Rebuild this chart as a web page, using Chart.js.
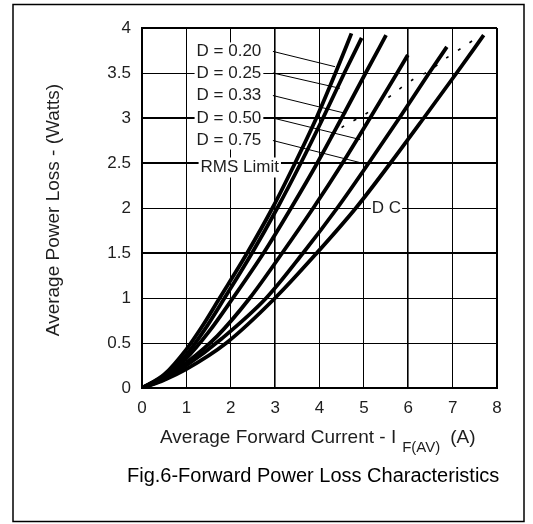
<!DOCTYPE html>
<html>
<head>
<meta charset="utf-8">
<script src="https://cdn.jsdelivr.net/npm/chart.js@4.4.1/dist/chart.umd.min.js"></script>
<style>
  html, body { margin: 0; padding: 0; background: #fff; }
  canvas { display: block; }
</style>
</head>
<body>
<canvas id="graph1" width="533" height="524"></canvas>
<script>
var dcCurrent  = [0, 0.5, 1, 1.9, 3.0, 3.94, 4.82, 5.6, 6.35, 7.09, 7.7];
var dcPower    = [0, 0.09, 0.21, 0.5, 1.0, 1.5, 2.0, 2.5, 3.0, 3.5, 3.92];

var d75Current = [0, 0.5, 1, 1.8, 2.8, 3.63, 4.4, 5.11, 5.8, 6.47, 6.87];
var d75Power   = [0, 0.1, 0.25, 0.55, 1.0, 1.5, 2.0, 2.5, 3.0, 3.5, 3.79];

var d50Current = [0, 0.5, 1, 1.7, 2.43, 3.16, 3.86, 4.52, 5.14, 5.75, 5.99];
var d50Power   = [0, 0.11, 0.28, 0.58, 1.0, 1.5, 2.0, 2.5, 3.0, 3.5, 3.7];

var d33Current = [0, 0.5, 1, 1.5, 2.05, 2.74, 3.36, 3.95, 4.5, 5.04, 5.5];
var d33Power   = [0, 0.13, 0.33, 0.62, 1.0, 1.5, 2.0, 2.5, 3.0, 3.5, 3.92];

var d25Current = [0, 0.5, 1, 1.4, 1.86, 2.48, 3.05, 3.58, 4.08, 4.56, 4.95];
var d25Power   = [0, 0.14, 0.37, 0.64, 1.0, 1.5, 2.0, 2.5, 3.0, 3.5, 3.89];

var d20Current = [0, 0.5, 1, 1.35, 1.75, 2.37, 2.94, 3.45, 3.93, 4.36, 4.72];
var d20Power   = [0, 0.15, 0.43, 0.68, 1.0, 1.5, 2.0, 2.5, 3.0, 3.5, 3.94];

var rmsCurrent = [4.24, 4.61, 4.96, 5.4, 5.74, 6.08, 6.49, 6.87, 7.21, 7.6];
var rmsPower   = [2.8, 2.93, 3.02, 3.17, 3.3, 3.42, 3.53, 3.67, 3.78, 3.91];

var xTicks = ['0', '1', '2', '3', '4', '5', '6', '7', '8'];
var yTicks = ['0', '0.5', '1', '1.5', '2', '2.5', '3', '3.5', '4'];

var dutyLabels = ['D = 0.20', 'D = 0.25', 'D = 0.33', 'D = 0.50', 'D = 0.75'];
var labelLevel = [3.74, 3.5, 3.25, 3.0, 2.75];   // where each label sits
var leaderEndX = [4.35, 4.46, 4.6, 4.92, 5.11];  // where its pointer hits the curve
var leaderEndY = [3.57, 3.33, 3.05, 2.76, 2.48];

var FONT = "'Liberation Sans', Arial, sans-serif";
var INK = '#1e1e1e';

function pts(xs, ys) {
    return xs.map(function (v, i) { return { x: v, y: ys[i] }; });
}

function curve(xs, ys) {
    return {
        data: pts(xs, ys),
        borderColor: '#000',
        borderWidth: 3.8,
        pointRadius: 0,
        cubicInterpolationMode: 'monotone',
        fill: false
    };
}

var datasets = [
    curve(d20Current, d20Power),
    curve(d25Current, d25Power),
    curve(d33Current, d33Power),
    curve(d50Current, d50Power),
    curve(d75Current, d75Power),
    curve(dcCurrent, dcPower),
    {
        data: pts(rmsCurrent, rmsPower),
        borderColor: '#000',
        borderWidth: 1.6,
        borderDash: [3, 11],
        pointRadius: 0,
        tension: 0.3
    }
];

// thin pointer lines from the labels to their curves
dutyLabels.forEach(function (txt, i) {
    datasets.push({
        data: [{ x: 2.95, y: labelLevel[i] }, { x: leaderEndX[i], y: leaderEndY[i] }],
        borderColor: '#000',
        borderWidth: 1,
        pointRadius: 0
    });
});

var decorations = {
    id: 'decorations',
    beforeDraw: function (chart) {
        var c = chart.ctx;
        c.save();
        c.fillStyle = '#fff';
        c.fillRect(0, 0, chart.width, chart.height);
        c.strokeStyle = '#000';
        c.lineWidth = 1.5;
        c.strokeRect(13, 4.5, 511, 517);
        c.restore();
    },
    beforeDatasetsDraw: function (chart) {
        var c = chart.ctx, sx = chart.scales.x, sy = chart.scales.y;
        var left = sx.getPixelForValue(1.23);
        c.save();
        c.font = '17px ' + FONT;
        c.textBaseline = 'middle';
        c.textAlign = 'left';

        var wMax = 0;
        dutyLabels.forEach(function (t) { wMax = Math.max(wMax, c.measureText(t).width); });
        var top = sy.getPixelForValue(labelLevel[0]) - 9;
        var bot = sy.getPixelForValue(labelLevel[labelLevel.length - 1]) + 9;
        c.fillStyle = '#fff';
        c.fillRect(left - 2, top, wMax + 4, bot - top);
        dutyLabels.forEach(function (t, i) {
            c.fillStyle = INK;
            c.fillText(t, left, sy.getPixelForValue(labelLevel[i]));
        });

        // RMS Limit label
        var ry = sy.getPixelForValue(2.45);
        var rw = c.measureText('RMS Limit').width;
        c.fillStyle = '#fff';
        c.fillRect(left + 2, ry - 10, rw + 4, 20);
        c.fillStyle = INK;
        c.fillText('RMS Limit', left + 4, ry);

        // DC label
        var dx = sx.getPixelForValue(5.18), dy = sy.getPixelForValue(2.0);
        var dw = c.measureText('D C').width;
        c.fillStyle = '#fff';
        c.fillRect(dx - 1, dy - 9, dw + 2, 18);
        c.fillStyle = INK;
        c.fillText('D C', dx, dy);
        c.restore();
    },
    afterDraw: function (chart) {
        var c = chart.ctx;
        c.save();
        c.fillStyle = INK;
        c.textBaseline = 'alphabetic';

        // y axis title
        c.save();
        c.translate(59, 210);
        c.rotate(-Math.PI / 2);
        c.font = '19px ' + FONT;
        c.textAlign = 'center';
        c.fillText('Average Power Loss - (Watts)', 0, 0);
        c.restore();

        // x axis title with subscript
        c.textAlign = 'left';
        c.font = '19px ' + FONT;
        var main = 'Average Forward Current - I';
        c.fillText(main, 160, 443);
        var mw = c.measureText(main).width;
        c.font = '15px ' + FONT;
        c.fillText('F(AV)', 160 + mw + 6, 452);
        var sw = c.measureText('F(AV)').width;
        c.font = '19px ' + FONT;
        c.fillText('(A)', 160 + mw + sw + 16, 443);

        // caption
        c.fillStyle = '#000';
        c.font = '20px ' + FONT;
        c.fillText('Fig.6-Forward Power Loss Characteristics', 127, 482);
        c.restore();
    }
};

var ctx = document.getElementById('graph1').getContext('2d');
var config = {
    type: 'line',
    data: { datasets: datasets },
    options: {
        responsive: false,
        animation: false,
        events: [],
        layout: { padding: { top: 28, right: 36, left: 0, bottom: 0 } },
        plugins: { legend: { display: false }, tooltip: { enabled: false } },
        scales: {
            x: {
                type: 'linear',
                min: 0,
                max: 8,
                afterFit: function (s) { s.height = 136; s.paddingLeft = 0; s.paddingRight = 0; },
                ticks: {
                    stepSize: 1,
                    padding: 10,
                    color: INK,
                    font: { family: FONT, size: 17 },
                    callback: function (v) { return xTicks[v]; }
                },
                grid: {
                    drawTicks: false,
                    color: '#000',
                    lineWidth: function (c) {
                        var v = c.tick ? c.tick.value : 0;
                        if (v === 8) return 2;
                        return (v === 3 || v === 6) ? 1.6 : 1;
                    }
                },
                border: { color: '#000', width: 2 }
            },
            y: {
                min: 0,
                max: 4,
                afterFit: function (s) { s.width = 142; s.paddingTop = 0; s.paddingBottom = 0; },
                ticks: {
                    stepSize: 0.5,
                    padding: 11,
                    color: INK,
                    font: { family: FONT, size: 17 },
                    callback: function (v) { return yTicks[Math.round(v * 2)]; }
                },
                grid: {
                    drawTicks: false,
                    color: '#000',
                    lineWidth: function (c) {
                        var v = c.tick ? c.tick.value : 0;
                        if (v === 4) return 2;
                        return (v === 3 || v === 2.5 || v === 1.5) ? 2 : 1;
                    }
                },
                border: { color: '#000', width: 2 }
            }
        }
    },
    plugins: [decorations]
};
var graph1 = new Chart(ctx, config);
</script>
</body>
</html>
